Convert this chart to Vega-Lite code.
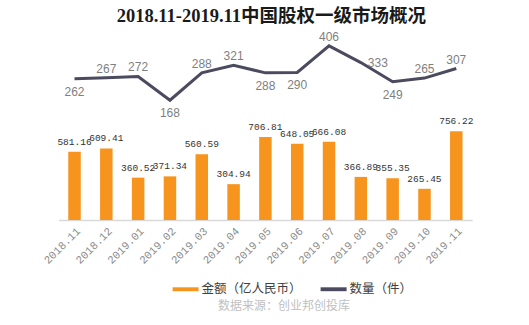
{
  "$schema": "https://vega.github.io/schema/vega-lite/v6.json",
  "width": 413.6,
  "height": 188,
  "autosize": {"type": "none"},
  "padding": {"left": 58.6, "top": 32, "right": 56.8, "bottom": 105},
  "background": "white",
  "title": {
    "text": "2018.11-2019.11中国股权一级市场概况",
    "font": "Liberation Serif, Noto Sans CJK SC",
    "fontSize": 18.5,
    "fontWeight": "bold",
    "color": "#1a1a1a",
    "anchor": "middle",
    "offset": 5,
    "dx": 6
  },
  "data": {
    "values": [
      {"month": "2018.11", "amount": 581.16, "count": 262},
      {"month": "2018.12", "amount": 609.41, "count": 267},
      {"month": "2019.01", "amount": 360.52, "count": 272},
      {"month": "2019.02", "amount": 371.34, "count": 168},
      {"month": "2019.03", "amount": 560.59, "count": 288},
      {"month": "2019.04", "amount": 304.94, "count": 321},
      {"month": "2019.05", "amount": 706.81, "count": 288},
      {"month": "2019.06", "amount": 648.05, "count": 290},
      {"month": "2019.07", "amount": 666.08, "count": 406},
      {"month": "2019.08", "amount": 366.89, "count": 333},
      {"month": "2019.09", "amount": 355.35, "count": 249},
      {"month": "2019.10", "amount": 265.45, "count": 265},
      {"month": "2019.11", "amount": 756.22, "count": 307}
    ]
  },
  "encoding": {
    "x": {
      "field": "month",
      "type": "ordinal",
      "sort": null,
      "scale": {"paddingInner": 0, "paddingOuter": 0},
      "axis": {
        "title": "数据来源：创业邦创投库",
        "titleFont": "Noto Sans CJK SC",
        "titleFontSize": 12,
        "titleFontWeight": "normal",
        "titleColor": "#bfbfbf",
        "titleX": 225,
        "titleY": 85,
        "titleBaseline": "middle",
        "titleAlign": "center",
        "labelAngle": -45,
        "labelFont": "Liberation Mono",
        "labelFontSize": 11,
        "labelColor": "#8c8c8c",
        "labelPadding": 5,
        "ticks": false,
        "domainColor": "#d9d9d9",
        "domainWidth": 1.5
      }
    }
  },
  "layer": [
    {
      "mark": {"type": "bar", "size": 12.5},
      "encoding": {
        "y": {"field": "amount", "type": "quantitative", "scale": {"domain": [0, 1600]}, "axis": null},
        "color": {
          "datum": "金额（亿人民币）",
          "type": "nominal",
          "scale": {"domain": ["金额（亿人民币）", "数量（件）"], "range": ["#F7941E", "#4B4A5F"]},
          "legend": {
            "title": null,
            "orient": "none",
            "legendX": 114,
            "legendY": 244,
            "direction": "horizontal",
            "symbolType": "M-1,-0.15L1,-0.15L1,0.15L-1,0.15Z",
            "symbolSize": 676,
            "symbolStrokeWidth": 0,
            "labelFont": "Noto Sans CJK SC",
            "labelFontSize": 12.5,
            "labelColor": "#404040",
            "labelOffset": 3,
            "columnPadding": 18,
            "padding": 0
          }
        }
      }
    },
    {
      "mark": {"type": "text", "dy": -10, "font": "Liberation Mono", "fontSize": 9.5, "color": "#333333"},
      "encoding": {
        "y": {"field": "amount", "type": "quantitative", "scale": {"domain": [0, 1600]}, "axis": null},
        "text": {"field": "amount", "type": "quantitative", "format": ".2f"}
      }
    },
    {
      "mark": {"type": "line", "strokeWidth": 3},
      "encoding": {
        "y": {"field": "count", "type": "quantitative", "scale": {"domain": [-357, 467]}, "axis": null},
        "color": {"datum": "数量（件）", "type": "nominal"}
      }
    },
    {
      "transform": [{"filter": {"field": "month", "oneOf": ["2018.12", "2019.01", "2019.03", "2019.04", "2019.07", "2019.10", "2019.11"]}}],
      "mark": {"type": "text", "dy": -9, "font": "Liberation Sans", "fontSize": 12, "color": "#7f7f7f"},
      "encoding": {
        "y": {"field": "count", "type": "quantitative", "scale": {"domain": [-357, 467]}, "axis": null},
        "text": {"field": "count", "type": "quantitative"}
      }
    },
    {
      "transform": [{"filter": {"field": "month", "oneOf": ["2018.11", "2019.02", "2019.05", "2019.06", "2019.09"]}}],
      "mark": {"type": "text", "dy": 13, "font": "Liberation Sans", "fontSize": 12, "color": "#7f7f7f"},
      "encoding": {
        "y": {"field": "count", "type": "quantitative", "scale": {"domain": [-357, 467]}, "axis": null},
        "text": {"field": "count", "type": "quantitative"}
      }
    },
    {
      "transform": [{"filter": {"field": "month", "oneOf": ["2019.08"]}}],
      "mark": {"type": "text", "dx": 7, "align": "left", "font": "Liberation Sans", "fontSize": 12, "color": "#7f7f7f"},
      "encoding": {
        "y": {"field": "count", "type": "quantitative", "scale": {"domain": [-357, 467]}, "axis": null},
        "text": {"field": "count", "type": "quantitative"}
      }
    }
  ],
  "resolve": {"scale": {"y": "independent"}},
  "config": {"view": {"stroke": null}}
}
